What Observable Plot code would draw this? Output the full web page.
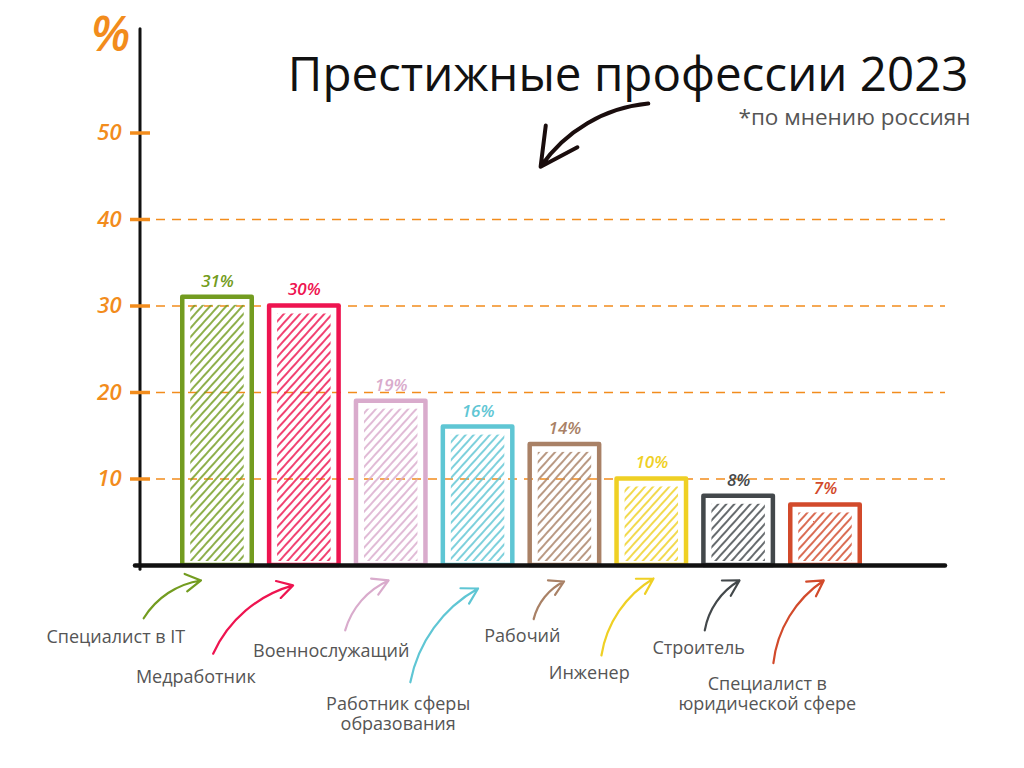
<!DOCTYPE html>
<html>
<head>
<meta charset="utf-8">
<script src="https://cdn.jsdelivr.net/npm/d3@7"></script>
<script src="https://cdn.jsdelivr.net/npm/@observablehq/plot@0.6"></script>
<style>
  html, body { margin: 0; padding: 0; background: #fff; }
  #chart { width: 1024px; height: 768px; }
  svg { display: block; }
</style>
</head>
<body>
<div id="chart"></div>
<script>
// ---- data ----
const categories = [
  "Специалист в IT",
  "Медработник",
  "Военнослужащий",
  "Работник сферы\nобразования",
  "Рабочий",
  "Инженер",
  "Строитель",
  "Специалист в\nюридической сфере"
];
const values = [31, 30, 19, 16, 14, 10, 8, 7];
const yTicks = [10, 20, 30, 40, 50];
const gridTicks = [10, 20, 30, 40];
const titleText = "Престижные профессии 2023";
const subtitleText = "*по мнению россиян";

// ---- styles ----
const colors = ["#739c20", "#ee1450", "#d9abcc", "#5fc6d4", "#a98166", "#efd024", "#43484b", "#d24a2b"];
const orange = "#f28c1c";

// ---- annotation layout (x in category-index units, y in value units) ----
const labelDX = [-1.17, -1.25, -0.69, -0.92, -0.49, -0.72, -0.46, -0.67];
const labelY = [-8.2, -12.8, -9.8, -17.1, -8.1, -12.4, -9.5, -14.8];
const arrowFromDX = [-0.85, -1.05, -0.53, -0.78, -0.36, -0.58, -0.39, -0.6];
const arrowFromY = [-6.1, -10.2, -7.5, -13.5, -6.2, -10.4, -7.5, -11.3];
const arrowToDX = [-0.19, -0.13, -0.03, 0, -0.01, 0.02, 0.01, -0.02];
const arrowToY = [-1.73, -2.3, -1.73, -2.66, -1.85, -1.5, -1.73, -1.73];
const bigArrow = {x1: 4.96, y1: 53.4, x2: 3.72, y2: 46.1};

const rows = categories.map((c, i) => ({
  cat: c, i, value: values[i], color: colors[i],
  lx: i + labelDX[i], ly: labelY[i],
  ax1: i + arrowFromDX[i], ay1: arrowFromY[i],
  ax2: i + arrowToDX[i], ay2: arrowToY[i]
}));

const yAxisLine = (index, scales, vals, dims) => {
  const g = d3.create("svg:line")
    .attr("x1", dims.marginLeft).attr("x2", dims.marginLeft)
    .attr("y1", scales.y(62)).attr("y2", scales.y(-0.5))
    .attr("stroke", "#111").attr("stroke-width", 3).attr("stroke-linecap", "round");
  return g.node();
};

const chart = Plot.plot({
  width: 1024,
  height: 768,
  marginLeft: 140,
  marginRight: 79,
  marginTop: 46,
  marginBottom: 203,
  style: {fontFamily: "'Open Sans', sans-serif", background: "#fff", overflow: "visible"},
  x: {domain: [0, 7], range: [217, 825], axis: null},
  y: {domain: [0, 60], range: [565, 46], axis: null},
  color: {type: "identity"},
  marks: [
    Plot.ruleY(gridTicks, {stroke: orange, strokeWidth: 1.6, strokeDasharray: "9,7"}),
    // hatched fill
    Plot.rectY(rows, {x1: d => d.i - 0.4, x2: d => d.i + 0.4, y1: 0, y2: "value",
      fill: d => `url(#hatch${d.i})`, insetLeft: 8, insetRight: 8, insetTop: 8, insetBottom: 4}),
    // outline
    Plot.rectY(rows, {x1: d => d.i - 0.4, x2: d => d.i + 0.4, y1: 0, y2: "value",
      fill: "none", stroke: "color", strokeWidth: 4.5, strokeLinejoin: "round"}),
    Plot.ruleY([0], {stroke: "#111", strokeWidth: 4.5, strokeLinecap: "round", insetLeft: -5}),
    yAxisLine,
    Plot.axisY(yTicks, {tickSize: 20, dx: 10, tickPadding: 9, color: orange, strokeWidth: 3.5,
      fontSize: 22, fontStyle: "italic", fontWeight: 600, label: null}),
    Plot.text(["%"], {frameAnchor: "top-left", dx: -30, dy: -11, fill: orange, fontSize: 48,
      fontStyle: "italic", fontWeight: 600, textAnchor: "middle", lineAnchor: "middle"}),
    // value labels
    Plot.text(rows, {x: "i", y: "value", text: d => d.value + "%", dy: -16, fill: "color",
      fontSize: 17, fontStyle: "italic", fontWeight: 600}),
    // category arrows
    Plot.arrow(rows, {x1: "ax1", y1: "ay1", x2: "ax2", y2: "ay2", stroke: "color", strokeWidth: 2.2,
      bend: 25, headLength: 12}),
    // category labels
    Plot.text(rows, {x: "lx", y: "ly", text: "cat", fill: "#555", fontSize: 18, lineHeight: 1.12,
      lineAnchor: "middle"}),
    // title
    Plot.text([titleText], {frameAnchor: "top-right", dx: 23, dy: 29, fontSize: 47.5, fill: "#111",
      textAnchor: "end", lineAnchor: "middle"}),
    Plot.text([subtitleText], {frameAnchor: "top-right", dx: 25, dy: 71, fontSize: 22.5, fill: "#555",
      textAnchor: "end", lineAnchor: "middle"}),
    Plot.arrow([bigArrow], {x1: "x1", y1: "y1", x2: "x2", y2: "y2", stroke: "#1a0d0d", strokeWidth: 4,
      bend: -25, headLength: 36, headAngle: 55})
  ]
});

// hatch patterns
const svg = d3.select(chart);
const defs = svg.insert("defs", ":first-child");
colors.forEach((c, i) => {
  const p = defs.append("pattern")
    .attr("id", "hatch" + i)
    .attr("patternUnits", "userSpaceOnUse")
    .attr("width", 6).attr("height", 6)
    .attr("patternTransform", "rotate(42)");
  p.append("line").attr("x1", 1).attr("y1", 0).attr("x2", 1).attr("y2", 6)
    .attr("stroke", c).attr("stroke-width", 1.8).attr("opacity", 0.9);
});

document.getElementById("chart").appendChild(chart);
</script>
</body>
</html>
